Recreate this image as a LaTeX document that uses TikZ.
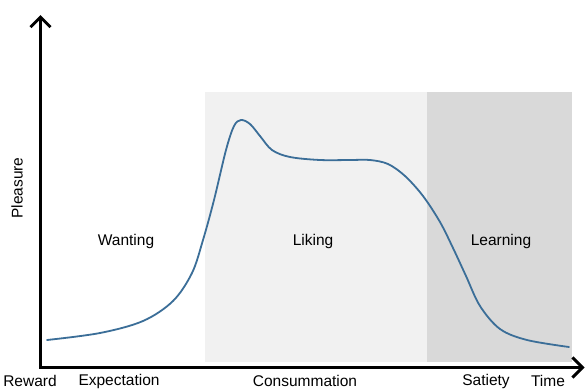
\documentclass[tikz,border=0pt]{standalone}
\usepackage{fontspec}
\setmainfont{Liberation Sans}
\usetikzlibrary{arrows.meta}
\definecolor{lightbg}{HTML}{F1F1F1}
\definecolor{darkbg}{HTML}{D9D9D9}
\definecolor{curveblue}{HTML}{3B6E98}
\tikzset{
  axis/.style={line width=3pt, -{Straight Barb[length=10pt,width=20pt,line width=3pt]}},
  lbl/.style={font=\fontsize{15.5}{17}\selectfont, inner sep=0pt, text=black},
}
\begin{document}
\begin{tikzpicture}[x=1pt,y=-1pt]
\useasboundingbox (0,0) rectangle (586,389);
\fill[white] (0,0) rectangle (586,389);
% shaded regions
\fill[lightbg] (205,92) rectangle (427,362);
\fill[darkbg] (427,92) rectangle (572,362);
% axes
\coordinate (origin) at (40.5,367);
\coordinate (ytip) at (40.5,15);
\coordinate (xtip) at (584.5,367.5);
\draw[axis] (40.5,368.5) -- (ytip);
\draw[axis] (39,367.5) -- (xtip);
% curve
\draw[curveblue, line width=1.8pt, line cap=round]
  plot[smooth, tension=0.55] coordinates {
  (47,340) (100,333) (143,321) (173,301) (192,273) (203,240) (214,200)
  (226,150) (234,126) (241,120) (250,124) (260,136) (272,150) (290,157)
  (320,160) (350,160) (370,160) (388,164) (405,176) (423,196) (440,222)
  (453,248) (466,276) (480,306) (500,329) (527,340) (569,347)};
% labels
\node[lbl, rotate=90] (pleasure) at (17,188) {Pleasure};
\node[lbl] (wanting) at (126,241) {Wanting};
\node[lbl] (liking) at (313,241) {Liking};
\node[lbl] (learning) at (501,241) {Learning};
\node[lbl] (reward) at (30,381) {Reward};
\node[lbl] (expect) at (119,381) {Expectation};
\node[lbl] (consum) at (305,381) {Consummation};
\node[lbl] (satiety) at (486,381) {Satiety};
\node[lbl] (time) at (548,381) {Time};
\end{tikzpicture}
\end{document}
